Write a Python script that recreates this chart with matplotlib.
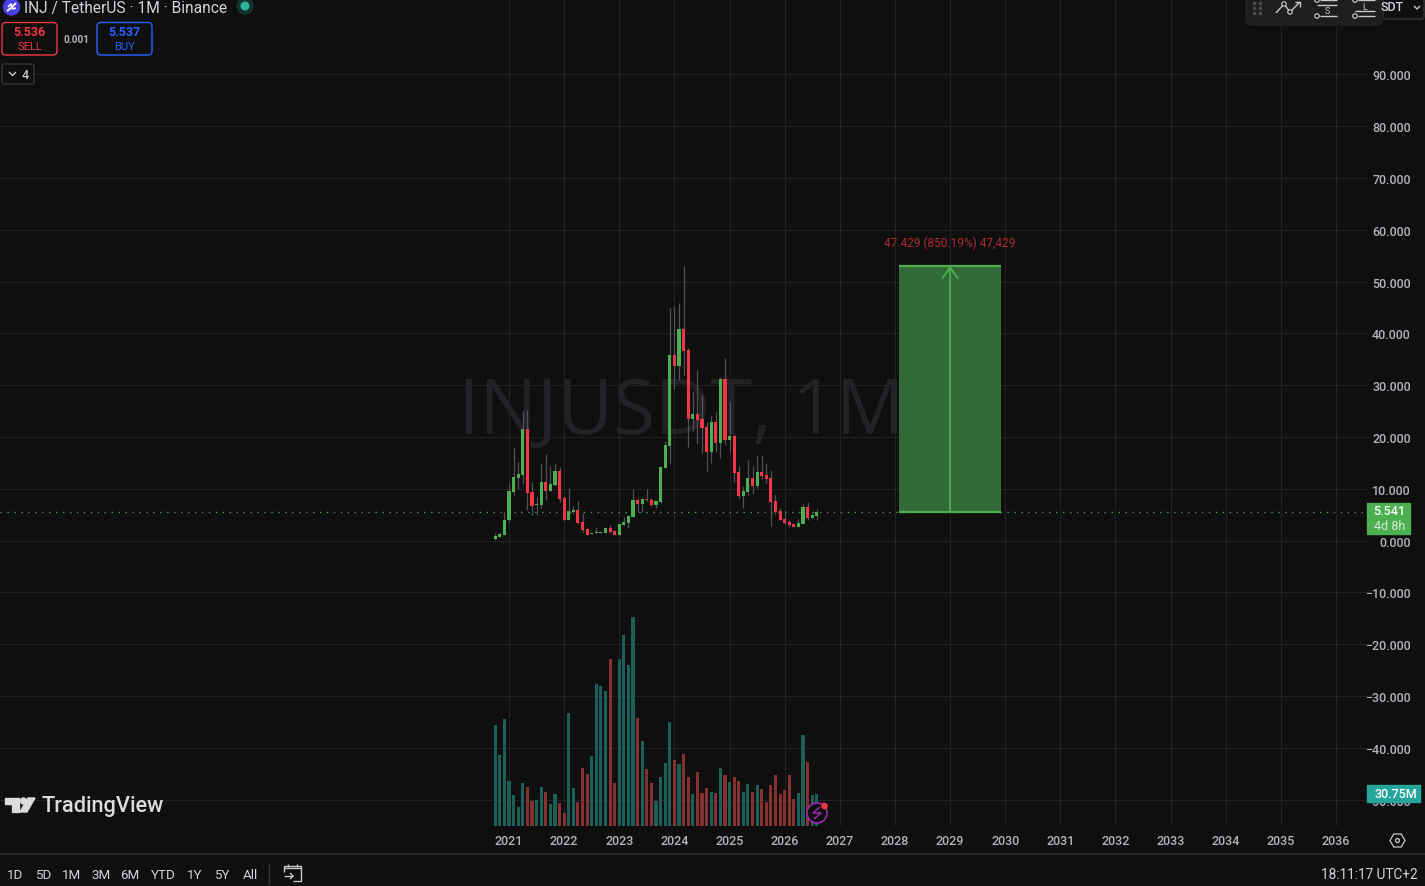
import numpy as np
import matplotlib
matplotlib.use("Agg")
import matplotlib.pyplot as plt
from matplotlib.patches import Circle, FancyBboxPatch, Polygon, Rectangle, RegularPolygon

# monthly candles, Oct 2020 to Aug 2026
opens = [0.29, 0.68, 1.06, 3.96, 9.36, 12.07, 12.64, 21.52, 9.36, 6.85, 6.85, 11.29,
         9.56, 10.71, 13.42, 8.20, 3.96, 5.50, 5.89, 3.57, 2.22, 1.25, 1.45, 1.45,
         1.45, 2.41, 1.83, 1.06, 2.99, 3.38, 4.54, 7.82, 7.05, 8.01, 7.82, 6.85,
         7.43, 14.00, 18.24, 35.81, 33.69, 40.83, 36.77, 23.46, 24.42, 23.46, 21.91, 17.08,
         22.88, 18.82, 31.18, 19.40, 20.17, 13.22, 8.59, 9.36, 12.07, 10.52, 13.22, 12.64,
         12.07, 7.63, 5.70, 4.15, 3.57, 3.19, 2.61, 3.19, 6.47, 4.34, 4.73]
highs = [1.38, 1.64, 5.57, 11.16, 18.05, 15.15, 25.00, 25.19, 11.29, 8.46, 14.96, 16.70,
         14.38, 14.96, 14.19, 8.59, 10.14, 6.66, 7.63, 5.31, 2.41, 1.51, 2.61, 1.67,
         2.54, 2.93, 2.03, 3.22, 4.60, 4.92, 9.94, 8.20, 8.20, 9.94, 8.20, 7.66,
         14.38, 19.21, 44.88, 45.27, 45.85, 52.99, 37.16, 28.86, 32.92, 28.09, 22.88, 24.03,
         24.81, 31.56, 35.23, 26.74, 20.56, 14.38, 10.52, 15.54, 14.38, 16.31, 16.51, 14.96,
         13.61, 8.98, 6.27, 5.89, 3.96, 3.22, 4.15, 7.05, 7.43, 5.50, 6.08]
lows = [0.10, 0.65, 1.00, 3.57, 8.78, 9.94, 10.91, 5.89, 4.92, 4.92, 6.27, 7.82,
        9.50, 10.52, 7.43, 3.76, 3.90, 5.12, 3.19, 1.45, 1.00, 1.19, 1.42, 1.42,
        1.38, 1.38, 1.00, 1.00, 2.95, 2.41, 4.50, 5.50, 5.50, 7.69, 6.66, 6.27,
        7.24, 13.95, 14.96, 29.25, 30.98, 31.95, 18.05, 21.14, 18.63, 16.89, 13.42, 14.96,
        17.08, 15.93, 18.44, 17.28, 11.29, 8.20, 6.27, 8.78, 8.98, 10.14, 11.87, 11.10,
        2.80, 5.12, 3.90, 3.19, 2.61, 2.55, 2.58, 3.15, 3.96, 4.30, 3.96]
closes = [0.87, 1.25, 3.96, 9.56, 12.26, 12.84, 21.52, 9.17, 6.66, 7.05, 11.29, 9.56,
          10.91, 13.42, 8.01, 3.96, 5.70, 5.89, 3.38, 2.03, 1.06, 1.45, 1.64, 1.64,
          2.41, 1.58, 1.06, 3.19, 3.57, 4.73, 7.82, 7.05, 8.01, 7.75, 6.85, 7.63,
          14.19, 18.44, 35.81, 33.69, 40.83, 36.58, 23.46, 24.42, 23.26, 21.72, 17.08, 22.88,
          18.82, 31.18, 19.40, 20.17, 13.03, 8.59, 9.56, 12.07, 10.52, 13.22, 12.45, 11.87,
          7.43, 5.50, 3.96, 3.38, 2.99, 2.61, 3.38, 6.47, 4.34, 4.92, 5.50]
# millions
volumes = [97.0, 68.2, 102.7, 43.2, 29.8, 18.2, 41.3, 37.4, 24.0, 25.0, 37.4, 32.6,
           21.1, 30.7, 22.1, 12.5, 108.5, 36.5, 23.0, 55.7, 49.9, 67.2, 136.3, 134.4,
           129.6, 160.3, 41.3, 160.3, 183.4, 154.6, 200.6, 103.7, 81.6, 54.7, 41.3, 24.0,
           47.0, 60.5, 99.8, 63.4, 59.5, 69.1, 47.0, 30.7, 51.8, 31.7, 36.5, 32.6,
           31.7, 55.7, 49.0, 42.2, 47.0, 43.2, 32.6, 40.3, 32.6, 39.4, 35.5, 23.0,
           39.4, 49.0, 30.7, 34.6, 49.0, 25.9, 31.7, 87.4, 61.4, 29.8, 30.75]

years = list(range(2021, 2037))
price_ticks = list(range(-50, 100, 10))
last_price = 5.541
target_price = 52.97
range_buttons = ["1D", "5D", "1M", "3M", "6M", "YTD", "1Y", "5Y", "All"]
range_button_x = [15, 43, 72, 101, 130, 163, 195, 222, 250]

BG = "#0f0f0f"
GRID = "#222222"
GREEN = "#4caf50"
RED = "#f23645"
TEXT = "#b2b5be"
FONT = ["Roboto", "DejaVu Sans"]

plt.rcParams["font.family"] = FONT

W, H = 1425, 887
fig = plt.figure(figsize=(W / 100, H / 100), dpi=100, facecolor=BG)

ax = fig.add_axes([0, 1 - 827 / H, 1367 / W, 827 / H], facecolor=BG)
ax.set_xlim(-107.8, 189.76)
ax.set_ylim(-55.11, 104.54)
for s in ax.spines.values():
    s.set_visible(False)

x = np.arange(len(opens))
o = np.array(opens)
c = np.array(closes)
up = c >= o
candle_colors = [GREEN if u else RED for u in up]

ax.text(3 + (681 - 509) / 4.594, 24.6, "INJUSDT, 1M", color="#222226", fontsize=55,
        ha="center", va="center", family=["Open Sans", "DejaVu Sans"], zorder=1)

ax.set_axisbelow(True)
ax.grid(True, color=GRID, lw=0.72)
ax.set_xticks([3 + 12 * i for i in range(len(years))])
ax.set_xticklabels(years)
ax.set_yticks(price_ticks)
ax.set_yticklabels([f"{v:.3f}".replace("-", "\u2212") for v in price_ticks], ha="right")
ax.yaxis.tick_right()
ax.tick_params(axis="both", length=0, colors=TEXT, labelsize=9)
ax.tick_params(axis="x", pad=6)
ax.tick_params(axis="y", pad=31.5)
for lab in ax.get_xticklabels() + ax.get_yticklabels():
    lab.set_fontweight("medium")

# volume has its own scale at the bottom of the pane
vol_ax = fig.add_axes(ax.get_position(), facecolor="none", sharex=ax)
vol_ax.set_ylim(0, 793.9)
vol_ax.axis("off")
vol_colors = ["#1c5f58" if u else "#853130" for u in up]
vol_ax.bar(x, volumes, width=0.68, color=vol_colors, linewidth=0)

ax.vlines(x, lows, highs, color="#50505a", lw=0.9, zorder=3)
ax.bar(x, c - o, bottom=o, width=0.68, color=candle_colors, linewidth=0, zorder=4)

ax.axhline(last_price, color="#4b9a4f", lw=1, ls=(0, (1, 4)), zorder=2)

# long position drawing
rng_left, rng_right = 87.9, 110.1
rng_mid = (rng_left + rng_right) / 2
ax.add_patch(Rectangle((rng_left, last_price), rng_right - rng_left, target_price - last_price,
                       facecolor="#326938", edgecolor="none", zorder=5))
ax.hlines([last_price, target_price], rng_left, rng_right, color=GREEN, lw=1.6, zorder=6)
ax.annotate("", xy=(rng_mid, target_price), xytext=(rng_mid, last_price), zorder=7,
            arrowprops=dict(arrowstyle="->,head_length=0.75,head_width=0.55", color=GREEN,
                            lw=1.3, shrinkA=0, shrinkB=0))
ax.text(rng_mid, 57.5, "47.429 (850.19%) 47,429", color="#b02a35", fontsize=8.6,
        ha="center", va="center", zorder=7)

# interface chrome is placed in pixels on top of the chart
ui = fig.add_axes([0, 0, 1, 1], facecolor="none")
ui.set_xlim(0, W)
ui.set_ylim(H, 0)
ui.axis("off")


def box(x0, y0, x1, y1, edge="none", face="none", radius=4, lw=1):
    ui.add_patch(FancyBboxPatch((x0 + radius, y0 + radius), x1 - x0 - 2 * radius, y1 - y0 - 2 * radius,
                                boxstyle=f"round,pad={radius},rounding_size={radius}",
                                edgecolor=edge, facecolor=face, lw=lw))


def label(px, py, s, color=TEXT, size=9, weight="normal", ha="center"):
    ui.text(px, py, s, color=color, fontsize=size, fontweight=weight, ha=ha, va="center")


def wire(xs, ys, color="#c8c8c8", lw=1):
    ui.plot(xs, ys, color=color, lw=lw, solid_capstyle="butt")


def node(px, py, r=2.2, color="#c8c8c8"):
    ui.add_patch(Circle((px, py), r, facecolor=BG, edgecolor=color, lw=0.9, zorder=5))


# header
ui.add_patch(Circle((11.5, 8), 8, color="#4a3ee8"))
wire([7, 11, 13, 16], [12, 9, 7, 4], color="white", lw=1.4)
wire([8, 11, 13, 16], [8, 5, 10, 9], color="white", lw=1.2)
label(24, 8, "INJ / TetherUS \u00b7 1M \u00b7 Binance", color="#d1d4dc", size=11.2, ha="left")
ui.add_patch(Circle((245, 7), 8, color="#14322d"))
ui.add_patch(Circle((245, 7), 3.8, color="#2bb59f"))

box(2, 23.5, 57, 56, edge=RED, radius=4)
label(29.5, 32.5, "5.536", color=RED, size=9, weight="bold")
label(29.5, 47, "SELL", color=RED, size=8)
label(76.5, 40, "0.001", color=TEXT, size=7.2, weight="bold")
box(97, 23.5, 152, 56, edge="#2962ff", radius=4)
label(124.5, 32.5, "5.537", color="#2962ff", size=9, weight="bold")
label(124.5, 47, "BUY", color="#2962ff", size=8)
box(2, 65, 34, 85, edge="#333333", face=BG, radius=2)
wire([9, 12.5, 16], [73, 76.5, 73], color="#c8c8c8")
label(25.5, 75.5, "4", color="#c8c8c8", size=9, weight="medium")

# top right toolbar
box(1383, -8, 1424, 20, edge="#333333", radius=3)
label(1392, 7.5, "SDT", color="#d1d4dc", size=9, weight="medium")
wire([1414, 1417, 1420], [7, 10, 7], color="#c8c8c8")
box(1245, -8, 1383, 27, face="#1e1e1e", radius=6)
for dx in [1254, 1260]:
    for dy in [4, 9, 14]:
        ui.add_patch(Rectangle((dx - 1, dy - 1), 2.4, 2.4, color="#4a4a4a"))
wire([1276, 1284, 1290, 1300], [14, 5, 13, 3])
wire([1295, 1300, 1300], [3, 3, 8])
node(1284, 5)
node(1290, 13)
wire([1320, 1337], [1, 1])
wire([1317, 1337], [6, 6])
wire([1320, 1337], [17, 17])
node(1317, 1)
node(1317, 17)
label(1327, 12, "S", color="#c8c8c8", size=6.5)
wire([1358, 1375], [1, 1])
wire([1355, 1375], [12, 12])
wire([1358, 1375], [17, 17])
node(1355, 1)
node(1355, 17)
label(1365, 7, "L", color="#c8c8c8", size=6.5)

# last price and last volume tags
ui.add_patch(Rectangle((1367, 504), 43, 31, color=GREEN))
label(1389.5, 512, "5.541", color="white", size=9, weight="medium")
label(1389.5, 526.5, "4d 8h", color="#d3ecd4", size=9)
ui.add_patch(Rectangle((1367, 786), 53, 17.5, color="#26a69a"))
label(1396, 795, "30.75M", color="white", size=9, weight="medium")

# logo
ui.add_patch(Polygon([(5, 799), (19, 799), (19, 813), (12, 813), (12, 805.5), (5, 805.5)], color="#dcdcdc"))
ui.add_patch(Circle((23.5, 802), 3, color="#dcdcdc"))
ui.add_patch(Polygon([(28, 799), (35, 799), (27, 813), (20, 813)], color="#dcdcdc"))
label(42, 806.5, "TradingView", color="#dcdcdc", size=15.7, weight="medium", ha="left")

# alert button on the time axis
ui.add_patch(Circle((817, 814), 10, facecolor=BG, edgecolor="#9c27b0", lw=1.2))
wire([820, 813, 821, 814], [808, 814, 814, 820], color="#9c27b0", lw=1.1)
ui.add_patch(Circle((824.5, 807), 2.6, color=RED))

ui.add_patch(RegularPolygon((1397.5, 841.5), 6, radius=7.5, orientation=np.pi / 2,
                            facecolor="none", edgecolor="#c8c8c8", lw=0.9))
ui.add_patch(Circle((1397.5, 841.5), 2, facecolor="none", edgecolor="#c8c8c8", lw=0.9))

# bottom bar
wire([0, W], [855, 855], color="#2a2a2a", lw=1.2)
for name, px in zip(range_buttons, range_button_x):
    label(px, 875.5, name, color="#d1d4dc", size=9.6)
wire([269, 269], [864, 886], color="#333333")
wire([284, 284, 301, 301, 293], [873, 867, 867, 882, 882], color="#c8c8c8")
wire([284, 301], [869.5, 869.5], color="#c8c8c8")
wire([288, 288], [865, 868], color="#c8c8c8")
wire([297, 297], [865, 868], color="#c8c8c8")
wire([284, 293], [877, 877], color="#c8c8c8")
wire([290, 293, 290], [874, 877, 880], color="#c8c8c8")
label(1418, 875.5, "18:11:17 UTC+2", color="#d1d4dc", size=9.8, ha="right")

fig.savefig("out.png", dpi=100, facecolor=BG)
